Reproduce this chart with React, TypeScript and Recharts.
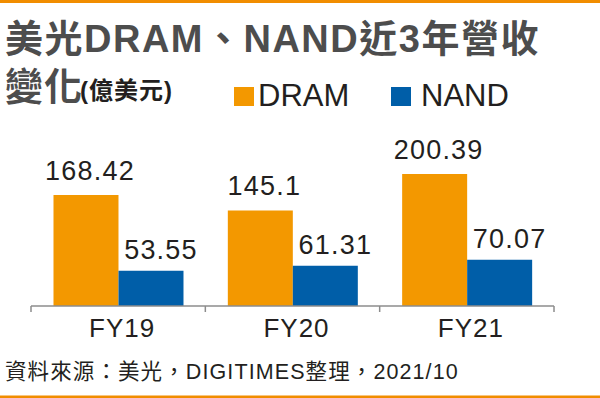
import React from 'react';
import { BarChart, Bar, XAxis, YAxis, LabelList, Legend } from 'recharts';

const categories = ['FY19', 'FY20', 'FY21'];
const dramValues = [168.42, 145.1, 200.39];
const nandValues = [53.55, 61.31, 70.07];
const seriesNames = ['DRAM', 'NAND'];
const titleLine1 = '美光DRAM、NAND近3年營收';
const titleLine2 = '變化';
const unitText = '(億美元)';
const sourceText = '資料來源：美光，DIGITIMES整理，2021/10';

const data = categories.map((c, i) => ({
  name: c,
  [seriesNames[0]]: dramValues[i],
  [seriesNames[1]]: nandValues[i],
}));

const ORANGE = '#f39800';
const BLUE = '#005ea8';
const TEXT = '#231f20';
const TITLE = '#4d4d4d';
const AXIS = '#8c8c8c';
const LATIN = "'Liberation Sans', Arial, 'Noto Sans CJK TC', sans-serif";
const legendX = [234, 391];
const legendTextGap = [4, 10];

const AxisTick = (props: any) => {
  const { x, y, payload, index, visibleTicksCount } = props;
  const off = payload && payload.offset ? payload.offset : 0;
  const last = index === (visibleTicksCount ?? categories.length) - 1;
  return (
    <g>
      <line x1={x - off} x2={x - off} y1={y} y2={y + 6} stroke={AXIS} strokeWidth={1.5} />
      {last && <line x1={x + off} x2={x + off} y1={y} y2={y + 6} stroke={AXIS} strokeWidth={1.5} />}
      <text
        x={x + 4}
        y={y + 30.5}
        textAnchor="middle"
        fontSize={26}
        letterSpacing={1}
        fill={TEXT}
        fontFamily={LATIN}
      >
        {payload.value}
      </text>
    </g>
  );
};

const makeLabel = (dx: number, off: number) => (p: any) => {
  const x = Number(p.x);
  const y = Number(p.y);
  const w = Number(p.width);
  return (
    <text
      x={x + w / 2 + dx}
      y={y - off}
      textAnchor="middle"
      fontSize={27}
      letterSpacing={1.2}
      fill={TEXT}
      fontFamily={LATIN}
    >
      {p.value}
    </text>
  );
};

const LegendContent = (props: any) => {
  const payload = props.payload || [];
  return (
    <svg width={600} height={120} style={{ position: 'absolute', top: 0, left: 0, overflow: 'visible' }}>
      {payload.map((item: any, i: number) => (
        <g key={item.value}>
          <rect x={legendX[i]} y={87} width={20} height={19} fill={item.color} />
          <text
            x={legendX[i] + 20 + legendTextGap[i]}
            y={106}
            fontSize={31}
            fill={TEXT}
            fontFamily={LATIN}
          >
            {item.value}
          </text>
        </g>
      ))}
    </svg>
  );
};

export default function App() {
  return (
    <div style={{ position: 'absolute', top: 0, left: 0, width: 600, height: 398, background: '#fff', overflow: 'hidden' }}>
      <BarChart
        width={600}
        height={398}
        data={data}
        margin={{ top: 148, right: 46, bottom: 62, left: 31 }}
        barCategoryGap="12.9%"
        barGap={0}
      >
        <XAxis
          dataKey="name"
          axisLine={{ stroke: AXIS, strokeWidth: 1.5 }}
          tickLine={false}
          tickSize={0}
          tickMargin={0}
          height={30}
          interval={0}
          tick={<AxisTick />}
        />
        <YAxis hide domain={[0, 240]} />
        <Legend
          layout="horizontal"
          verticalAlign="middle"
          align="center"
          wrapperStyle={{ top: 0, left: 0, width: 600, height: 0 }}
          content={<LegendContent />}
        />
        <Bar dataKey={seriesNames[0]} fill={ORANGE} isAnimationActive={false}>
          <LabelList dataKey={seriesNames[0]} content={makeLabel(4, 15)} />
        </Bar>
        <Bar dataKey={seriesNames[1]} fill={BLUE} isAnimationActive={false}>
          <LabelList dataKey={seriesNames[1]} content={makeLabel(10, 12)} />
        </Bar>
      </BarChart>
      <svg width={600} height={398} style={{ position: 'absolute', top: 0, left: 0, pointerEvents: 'none' }}>
        <rect x={0} y={0} width={600} height={3} fill="#f18d00" />
        <text x={5} y={52} fontSize={38} fontWeight={700} letterSpacing={1.5} fill={TITLE} fontFamily={LATIN}>
          {titleLine1}
        </text>
        <text x={5} y={100} fontSize={38} fontWeight={700} letterSpacing={1} fill={TITLE} fontFamily={LATIN}>
          {titleLine2}
          <tspan dx={-3} dy={-1} fontSize={24} letterSpacing={1} fill={TEXT}>
            {unitText}
          </tspan>
        </text>
        <text x={5} y={379} fontSize={21.5} letterSpacing={1.1} fill={TEXT} fontFamily={LATIN}>
          {sourceText}
        </text>
        <rect x={0} y={395.5} width={600} height={2.5} fill="#f18d00" />
      </svg>
    </div>
  );
}
